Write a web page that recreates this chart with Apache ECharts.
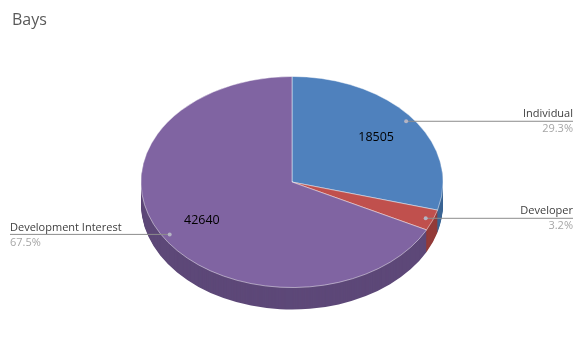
<!DOCTYPE html>
<html><head><meta charset="utf-8">
<script src="https://cdn.jsdelivr.net/npm/echarts@6/dist/echarts.min.js"></script>
<style>html,body{margin:0;padding:0;background:#fff}#c{width:585px;height:355px}</style>
</head><body><div id="c"></div>
<script>
const title = 'Bays';
const categories = ['Individual', 'Developer', 'Development Interest'];
const values = [18505, 2025, 42640];
const topColors = ['#4f81bd', '#c0504d', '#8064a2'];
const sideColors = ['#3b6594', '#933b39', '#5d4878'];

const FONT = '"Open Sans", "Noto Sans", sans-serif';
const total = values.reduce((a, b) => a + b, 0);
const starts = [];
let acc = 0;
values.forEach(v => { starts.push(acc); acc += v; });

const CX = 292, CY = 182, R = 151, K = 0.699, DEPTH = 22;
function pt(theta, rf) {
  return [CX + R * rf * Math.sin(theta), CY - R * K * rf * Math.cos(theta)];
}

const chart = echarts.init(document.getElementById('c'), null, {renderer: 'canvas'});
chart.setOption({
  backgroundColor: '#ffffff',
  animation: false,
  title: {
    text: title, left: 7, top: 7,
    textStyle: {fontSize: 16, fontWeight: 'normal', color: '#595959', fontFamily: FONT}
  },
  series: [{
    type: 'custom',
    coordinateSystem: 'none',
    silent: true,
    data: values.map((v, i) => ({value: v, name: categories[i]})),
    renderItem: function (params, api) {
      const i = params.dataIndex;
      const v = api.value(0);
      const a0 = starts[i] / total * 2 * Math.PI;
      const a1 = (starts[i] + v) / total * 2 * Math.PI;
      const mid = (a0 + a1) / 2;
      const children = [];
      const shape = {cx: CX, cy: CY, r0: 0, r: R, startAngle: a0 - Math.PI / 2, endAngle: a1 - Math.PI / 2, clockwise: true};
      for (let d = DEPTH; d >= 1; d--) {
        children.push({
          type: 'sector', shape: shape, y: d, scaleY: K, originX: CX, originY: CY, z2: 1,
          style: {fill: sideColors[i]}
        });
      }
      children.push({
        type: 'sector', shape: shape, scaleY: K, originX: CX, originY: CY, z2: 10,
        style: {fill: topColors[i], stroke: 'rgba(255,255,255,0.55)', lineWidth: 1, strokeNoScale: true}
      });
      const pct = (v / total * 100).toFixed(1) + '%';
      const dot = pt(mid, 0.95);
      const right = Math.sin(mid) > 0;
      const lx = right ? 573 : 10;
      children.push({
        type: 'line', z2: 20,
        shape: {x1: dot[0], y1: dot[1], x2: lx, y2: dot[1]},
        style: {stroke: '#8c8c8c', lineWidth: 1}
      });
      children.push({
        type: 'circle', z2: 21, shape: {cx: dot[0], cy: dot[1], r: 2},
        style: {fill: '#b4b4c4'}
      });
      children.push({
        type: 'text', z2: 21,
        style: {text: categories[i], x: lx, y: dot[1] - 7, align: right ? 'right' : 'left', verticalAlign: 'middle',
                fill: '#404040', font: '11px ' + FONT}
      });
      children.push({
        type: 'text', z2: 21,
        style: {text: pct, x: lx, y: dot[1] + 8, align: right ? 'right' : 'left', verticalAlign: 'middle',
                fill: '#a6a6a6', font: '11px ' + FONT}
      });
      if (v / total > 0.1) {
        const vp = pt(mid, 0.70);
        children.push({
          type: 'text', z2: 21,
          style: {text: String(v), x: vp[0], y: vp[1], align: 'center', verticalAlign: 'middle',
                  fill: '#000000', font: '12.5px ' + FONT}
        });
      }
      return {type: 'group', children: children};
    }
  }]
});
</script>
</body></html>
